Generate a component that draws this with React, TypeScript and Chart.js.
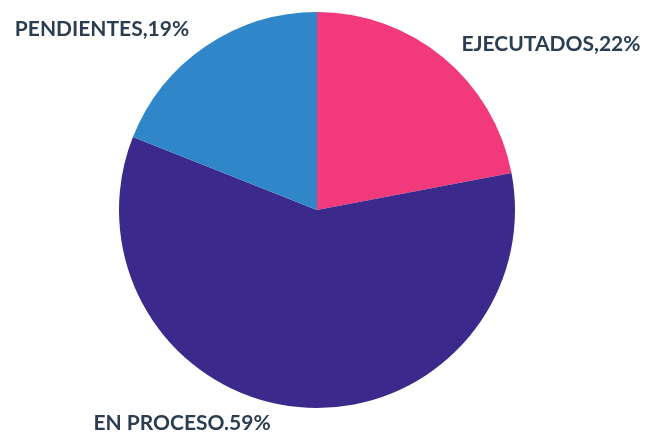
import React, { useEffect, useRef } from "react";
import { Chart, registerables } from "chart.js";

Chart.register(...registerables);

const categories = ["EJECUTADOS", "EN PROCESO", "PENDIENTES"];
const values = [22, 59, 19];
const labelTexts = ["EJECUTADOS,22%", "EN PROCESO.59%", "PENDIENTES,19%"];
const colors = ["#f2397b", "#3b2a8b", "#2f87c9"];
const labelOffsets = [
  [234, -166],
  [-135, 213],
  [-215, -181],
];

const labelPlugin = {
  id: "sliceLabels",
  afterDatasetsDraw(chart: any) {
    const ctx = chart.ctx;
    const meta = chart.getDatasetMeta(0);
    ctx.save();
    ctx.font = "bold 21px Lato";
    ctx.fillStyle = "#2b3d50";
    ctx.textAlign = "center";
    ctx.textBaseline = "middle";
    meta.data.forEach((arc: any, i: number) => {
      const [dx, dy] = labelOffsets[i];
      ctx.fillText(labelTexts[i], arc.x + dx, arc.y + dy);
    });
    ctx.restore();
  },
};

export default function App() {
  const ref = useRef<HTMLCanvasElement>(null);
  useEffect(() => {
    document.body.style.margin = "0";
    const chart = new Chart(ref.current!, {
      type: "pie",
      data: {
        labels: categories,
        datasets: [
          {
            data: values,
            backgroundColor: colors,
            borderWidth: 0,
          },
        ],
      },
      options: {
        animation: false,
        responsive: false,
        layout: { padding: { left: 119, right: 133, top: 12, bottom: 24 } },
        plugins: { legend: { display: false }, tooltip: { enabled: false } },
      },
      plugins: [labelPlugin],
    });
    return () => chart.destroy();
  }, []);
  return (
    <div style={{ width: 648, height: 432, background: "#fff" }}>
      <canvas ref={ref} width={648} height={432} />
    </div>
  );
}
